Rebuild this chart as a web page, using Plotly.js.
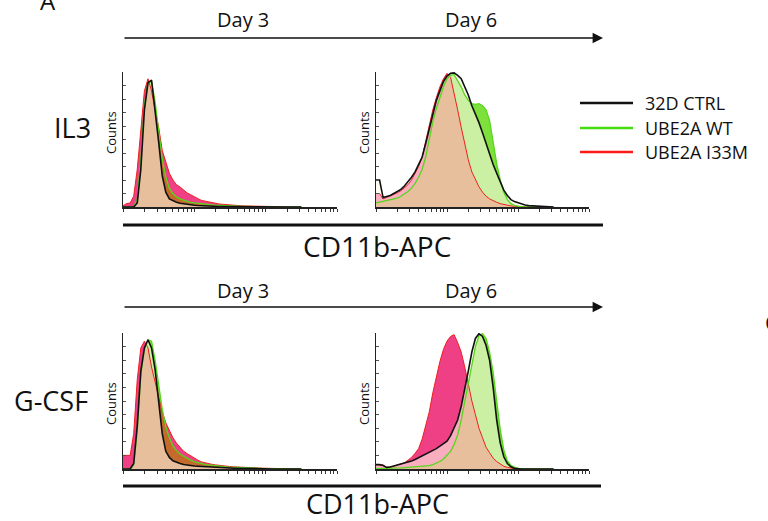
<!DOCTYPE html>
<html><head><meta charset="utf-8">
<script src="https://cdn.plot.ly/plotly-3.0.1.min.js"></script>
<style>html,body{margin:0;padding:0;background:#fff;}#chart{width:768px;height:521px;}</style>
</head><body><div id="chart"></div>
<script>
// CD11b-APC channel, log10 units
const LOG_CHANNEL = [1.00,1.05,1.10,1.15,1.20,1.25,1.30,1.35,1.40,1.45,1.50,1.55,1.60,1.65,1.70,1.75,1.80,1.85,1.90,1.95,2.00,2.05,2.10,2.15,2.20,2.25,2.30,2.35,2.40,2.45,2.50,2.55,2.60,2.65,2.70,2.75,2.80,2.85,2.90,2.95,3.00,3.05,3.10,3.15,3.20,3.25,3.30,3.35,3.40,3.45,3.50];

// Counts (% of mode)
const IL3_D3_CTRL = [0,0,0,0,3,28,72,92,94,73,48,23,11,6,4.5,3.5,2.8,2.3,1.9,1.6,1.3,1.1,0.9,0.8,0.7,0.6,0.5,0.4,0.35,0.3,0.25,0.2,0.15,0.1,0.1,0.1,0.1,0.05,0.05,0,0,0,0,0,0,0,0,0,0,0,0];
const IL3_D3_WT   = [0,0,0,0,6,35,76,92,93,78,56,36,22,14,10,7.5,6,5,4.2,3.5,3,2.6,2.3,2,1.8,1.5,1.3,1.1,1,0.9,0.8,0.7,0.6,0.5,0.4,0.35,0.3,0.25,0.2,0.15,0.1,0.05,0,0,0,0,0,0,0,0,0];
const IL3_D3_I33M = [1,2.5,3,8,28,60,86,95,86,72,59,42,33,25,20,16.5,14.8,12.3,10.4,9,7.4,6.2,4.9,4.3,3.7,3.2,2.5,2.2,2,1.7,1.5,1.2,1,0.9,0.8,0.7,0.7,0.6,0.5,0.5,0.5,0.4,0.4,0.3,0.3,0.2,0.2,0.1,0.1,0,0];

const IL3_D6_CTRL = [20,20,7,7.5,8.5,10,11.5,13,15.5,18.5,22,26,31,37,47,58,69,79,86,93,97,99,99.3,97.5,95,89,83,75,69,62.5,55,47,39.5,31.5,25,18,12.5,8.5,5.5,4,3,2,1.5,1,0.8,0.6,0.4,0.3,0.2,0.1,0];
const IL3_D6_WT   = [3,3.5,4,4.5,5,5.5,6.5,8,9.5,11.5,14,17.5,22,28,37,50,63,73,81,89,95,97.5,98,94,89,83,79,76.5,76,76.5,75,72,64,48,32,20,11,5.5,2.5,1.2,0.5,0,0,0,0,0,0,0,0,0,0];
const IL3_D6_I33M = [10,10,6,7,8,9,10.5,12,14,16.5,20,24.5,30,37,49,60,72,81,89,95,99,96,85,72,59,46,35,26,20,15,11,8,6,4.5,3.5,2.5,1.8,1.2,0.8,0.5,0.3,0.2,0.1,0,0,0,0,0,0,0,0];

const GCSF_D3_CTRL = [0,0,0,4,32,72,89,95,89,73,47,26,13,8.5,6,4.8,4,3.3,2.8,2.5,2.2,2,1.8,1.6,1.4,1.2,1.1,1,0.9,0.8,0.7,0.6,0.5,0.45,0.4,0.35,0.3,0.25,0.2,0.15,0.1,0.05,0,0,0,0,0,0,0,0,0];
const GCSF_D3_WT   = [0,0,0,3,28,70,88,95,94,80,62,44,31,23,17,13.5,11,9.4,7.8,6.5,5.5,4.7,4,3.4,3,2.6,2.3,2,1.8,1.5,1.3,1.15,1,0.9,0.8,0.7,0.6,0.5,0.45,0.4,0.3,0.25,0.2,0.15,0.1,0.05,0,0,0,0,0];
const GCSF_D3_I33M = [10,10,10,26,66,89,94,89,75,64,53,42,34,28,23,19,16,13,11.3,9.5,8,6.5,5.2,4.5,3.9,3.4,3,2.6,2.2,2,1.8,1.6,1.4,1.2,1.1,1,0.9,0.8,0.7,0.6,0.5,0.4,0.35,0.3,0.25,0.2,0.15,0.1,0.05,0,0];

const GCSF_D6_CTRL = [3.2,3.2,2.5,1.2,1.5,2,3,3.7,4.3,5,5.8,7,8.3,9.7,11,12.3,13.6,15,16.8,18.6,20.5,24.5,30,36,46,58,72,86,96,99.5,97.5,91,80,60,36,19,9,4,1.6,0.6,0.2,0,0,0,0,0,0,0,0,0,0];
const GCSF_D6_WT   = [0.3,0.3,0.3,0.3,0.3,0.5,0.7,0.85,1,1.15,1.3,1.5,1.7,1.9,2.2,2.5,3.2,4.2,5.5,7.4,10,13,18,25,36,50,64,79,90,98,99.5,96,86,71,50,29,14,6,2.8,1.3,0.5,0,0,0,0,0,0,0,0,0,0];
const GCSF_D6_I33M = [3.2,3.2,3,1.2,1.5,2,3,3.7,4.5,6.5,8.5,11.5,15,22,33,42,56,68,79,88,94,97.5,98.8,93,86,75,62,50,40,30,23,16,12,8,5.5,3.7,2,1.2,0.6,0.3,0,0,0,0,0,0,0,0,0,0,0];

const SERIES_NAMES = ['32D CTRL','UBE2A WT','UBE2A I33M'];
const ROW_LABELS = ['IL3','G-CSF'];
const DAY_LABELS = ['Day 3','Day 6'];
const AXIS_LABEL = 'CD11b-APC';
const Y_LABEL = 'Counts';

const X = LOG_CHANNEL.map(v => Math.pow(10, v));
const W = 768, H = 521;
const px = v => v / W, py = v => 1 - v / H;

const C_PINK = '#ef3f85', C_GREEN = '#7ee03c', C_BROWN = '#c46a2c', C_CTRL = 'rgba(255,248,232,0.6)';
const L_RED = '#ee2020', L_GREEN = '#56d61c', L_BLACK = '#111111';

function panel(ctrl, wt, mut, xa, ya) {
  const both = mut.map((v, i) => Math.min(v, wt[i]));
  const base = {x: X, xaxis: xa, yaxis: ya, type: 'scatter', mode: 'lines', hoverinfo: 'skip', showlegend: false};
  return [
    Object.assign({}, base, {y: mut, fill: 'tozeroy', fillcolor: C_PINK, line: {width: 0}}),
    Object.assign({}, base, {y: wt, fill: 'tozeroy', fillcolor: C_GREEN, line: {width: 0}}),
    Object.assign({}, base, {y: both, fill: 'tozeroy', fillcolor: C_BROWN, line: {width: 0}}),
    Object.assign({}, base, {y: ctrl, fill: 'tozeroy', fillcolor: C_CTRL, line: {width: 0}}),
    Object.assign({}, base, {y: mut, name: SERIES_NAMES[2], line: {color: L_RED, width: 1}}),
    Object.assign({}, base, {y: wt, name: SERIES_NAMES[1], line: {color: L_GREEN, width: 1.3}}),
    Object.assign({}, base, {y: ctrl, name: SERIES_NAMES[0], line: {color: L_BLACK, width: 1.6}})
  ];
}

const data = [].concat(
  panel(IL3_D3_CTRL, IL3_D3_WT, IL3_D3_I33M, 'x', 'y'),
  panel(IL3_D6_CTRL, IL3_D6_WT, IL3_D6_I33M, 'x2', 'y2'),
  panel(GCSF_D3_CTRL, GCSF_D3_WT, GCSF_D3_I33M, 'x3', 'y3'),
  panel(GCSF_D6_CTRL, GCSF_D6_WT, GCSF_D6_I33M, 'x4', 'y4')
);

function xax(d0, d1, anchor) {
  return {domain: [px(d0), px(d1)], anchor: anchor, type: 'log', range: [1, 4], showline: true, linecolor: '#222', linewidth: 1.5,
    ticks: 'outside', ticklen: 3, tickwidth: 1, tickcolor: '#333', dtick: 'D1', showticklabels: false, showgrid: false, zeroline: false, fixedrange: true};
}
function yax(top, bottom, anchor) {
  return {domain: [py(bottom), py(top)], anchor: anchor, range: [0, 100], showline: true, linecolor: '#222', linewidth: 1.5,
    ticks: 'inside', ticklen: 2.5, tickwidth: 1, tickcolor: '#555', dtick: 10, showticklabels: false, showgrid: false, zeroline: false, fixedrange: true};
}

const FONT = 'Open Sans, DejaVu Sans, sans-serif';
function txt(t, x, y, size, extra) {
  return Object.assign({text: t, x: px(x), y: py(y), xref: 'paper', yref: 'paper', showarrow: false,
    xanchor: 'center', yanchor: 'middle', font: {family: FONT, size: size, color: '#111'}}, extra || {});
}
function arrow(x0, x1, y) {
  return {text: '', x: px(x1), y: py(y), xref: 'paper', yref: 'paper', showarrow: true, ax: -(x1 - x0), ay: 0,
    arrowhead: 2, arrowsize: 1.3, arrowwidth: 1.6, arrowcolor: '#111', standoff: 0};
}

const annotations = [
  txt('A', 48, 0, 24),
  txt(DAY_LABELS[0], 243, 20, 20), txt(DAY_LABELS[1], 471, 20, 20),
  txt(DAY_LABELS[0], 243, 290, 20), txt(DAY_LABELS[1], 471, 290, 20),
  arrow(123, 603, 38), arrow(123, 603, 307),
  txt(ROW_LABELS[0], 72, 128, 27), txt(ROW_LABELS[1], 51, 400, 27),
  txt(Y_LABEL, 111, 133, 13, {textangle: -90}), txt(Y_LABEL, 111, 404, 13, {textangle: -90}),
  txt(Y_LABEL, 364, 133, 13, {textangle: -90}), txt(Y_LABEL, 364, 404, 13, {textangle: -90}),
  txt(AXIS_LABEL, 377, 246, 28), txt(AXIS_LABEL, 377, 503, 27),
  txt(SERIES_NAMES[0], 643, 103, 18, {xanchor: 'left'}),
  txt(SERIES_NAMES[1], 643, 128, 18, {xanchor: 'left'}),
  txt(SERIES_NAMES[2], 643, 152, 18, {xanchor: 'left'}),
  txt('C', 763, 322, 22, {xanchor: 'left'})
];

function hline(x0, x1, y, color, width) {
  return {type: 'line', xref: 'paper', yref: 'paper', x0: px(x0), x1: px(x1), y0: py(y), y1: py(y), line: {color: color, width: width}};
}
const shapes = [
  hline(123, 603, 225, '#111', 2.8),
  hline(123, 601, 486, '#111', 2.8),
  hline(580, 633, 103, '#111', 2.5),
  hline(580, 633, 128, '#44dd11', 2.5),
  hline(580, 633, 152, '#ff1a1a', 2.5)
];

const layout = {
  width: W, height: H, margin: {l: 0, r: 0, t: 0, b: 0},
  paper_bgcolor: '#fff', plot_bgcolor: 'rgba(0,0,0,0)', showlegend: false,
  font: {family: FONT},
  xaxis: xax(123, 337, 'y'), yaxis: yax(72, 207, 'x'),
  xaxis2: xax(376, 589, 'y2'), yaxis2: yax(72, 207, 'x2'),
  xaxis3: xax(123, 337, 'y3'), yaxis3: yax(333, 469, 'x3'),
  xaxis4: xax(376, 589, 'y4'), yaxis4: yax(333, 469, 'x4'),
  annotations: annotations, shapes: shapes
};

Plotly.newPlot('chart', data, layout, {displayModeBar: false, staticPlot: true});
</script></body></html>
